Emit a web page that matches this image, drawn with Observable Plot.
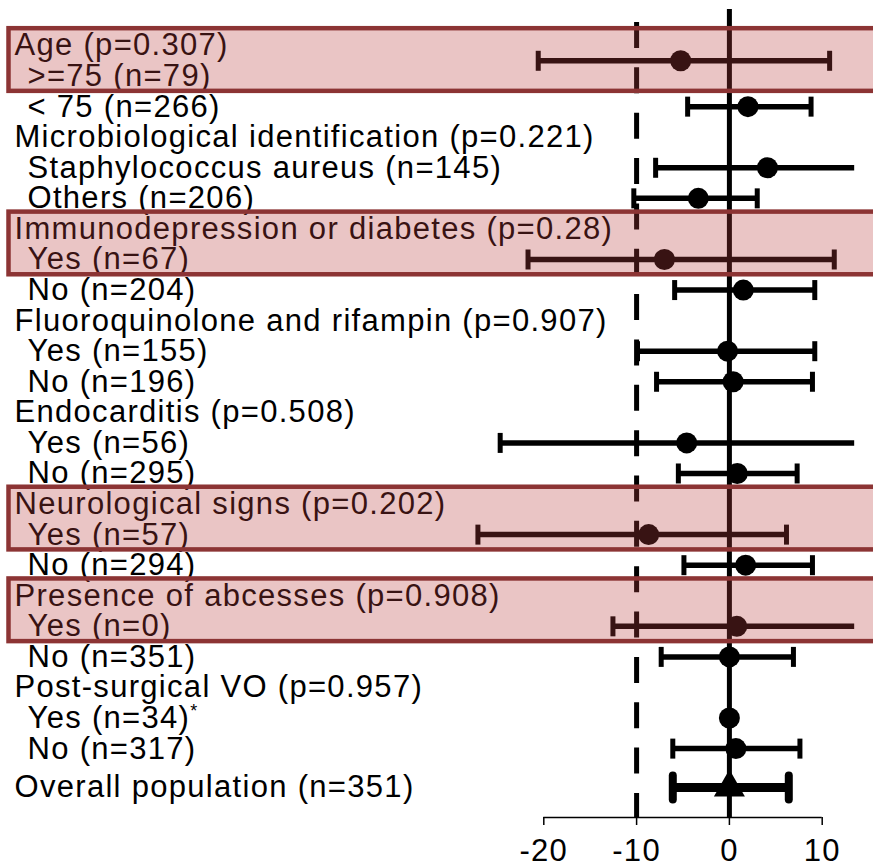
<!DOCTYPE html>
<html>
<head>
<meta charset="utf-8">
<script src="https://cdn.jsdelivr.net/npm/d3@7"></script>
<script src="https://cdn.jsdelivr.net/npm/@observablehq/plot@0.6"></script>
<style>
  html, body { margin: 0; padding: 0; background: #fff; }
  #chart { width: 873px; height: 868px; }
</style>
</head>
<body>
<div id="chart"></div>
<script>
// Row labels of the forest plot (subgroup headers and their levels)
const labels = [
  "Age (p=0.307)", ">=75 (n=79)", "< 75 (n=266)",
  "Microbiological identification (p=0.221)", "Staphylococcus aureus (n=145)", "Others (n=206)",
  "Immunodepression or diabetes (p=0.28)", "Yes (n=67)", "No (n=204)",
  "Fluoroquinolone and rifampin (p=0.907)", "Yes (n=155)", "No (n=196)",
  "Endocarditis (p=0.508)", "Yes (n=56)", "No (n=295)",
  "Neurological signs (p=0.202)", "Yes (n=57)", "No (n=294)",
  "Presence of abcesses (p=0.908)", "Yes (n=0)", "No (n=351)",
  "Post-surgical VO (p=0.957)", "Yes (n=34)*", "No (n=317)",
  "Overall population (n=351)"
];
const labelLevel = [0,1,1, 0,1,1, 0,1,1, 0,1,1, 0,1,1, 0,1,1, 0,1,1, 0,1,1, 0];
const labelRow = [0,1,2,3,4,5,6,7,8,9,10,11,12,13,14,15,16,17,18,19,20,21,22,23,24.27];

// Estimated difference with its confidence interval, one entry per subgroup level
const estRow   = [0.5, 2, 4, 5, 7, 8, 10, 11, 13, 14, 16, 17, 19, 20, 22, 23, 24.27];
const estimate = [-5.25, 2.0, 4.1, -3.35, -7.0, 1.5, -0.2, 0.4, -4.6, 0.85, -8.7, 1.75, 0.8, 0.0, 0.0, 0.7, 0.0];
const lower    = [-20.6, -4.5, -7.95, -10.3, -21.7, -5.9, -9.9, -7.85, -24.7, -5.5, -27.1, -4.9, -12.55, -7.35, null, -6.1, -6.1];
const upper    = [10.8, 8.8, 13.5, 3.0, 11.3, 9.2, 9.2, 8.95, 13.5, 7.3, 6.15, 8.95, 13.5, 6.9, null, 7.6, 6.4];
const estShape = ["circle","circle","circle","circle","circle","circle","circle","circle","circle",
                  "circle","circle","circle","circle","circle","circle","circle","triangle"];

// Header rows of the highlighted subgroups (header + first level)
const highlightRows = [0, 6, 15, 18];

const xTicks = [-20, -10, 0, 10];
const noEffect = 0;
const margin = -10;

// layout helpers
const rowTop = 45, rowStep = 30.57;
const rowOf = px => (px - rowTop) / rowStep;
const xEdge = 13.5;          // right edge of the plotting region
const fontFamily = "'Liberation Sans', Arial, Helvetica, sans-serif";

const rows = labels.map((label, i) => ({label, level: labelLevel[i], row: labelRow[i]}));
const est = estimate.map((v, i) => ({
  row: estRow[i], est: v, lo: lower[i], hi: upper[i], overall: estShape[i] === "triangle"
}));
const bars = est.filter(d => d.lo != null && !d.overall);
const overall = est.filter(d => d.overall);
const points = est.filter(d => !d.overall);

// vertical tick used as an error-bar cap
const capSymbol = {
  draw(ctx, size) {
    const h = Math.sqrt(size / Math.PI);
    ctx.moveTo(0, -h);
    ctx.lineTo(0, h);
  }
};

const capsOf = data => data.flatMap(d => {
  const c = [{row: d.row, x: d.lo}];
  if (d.hi < xEdge) c.push({row: d.row, x: d.hi});
  return c;
});

const chart = Plot.plot({
  width: 873,
  height: 868,
  marginTop: 0,
  marginLeft: 0,
  marginRight: 0,
  marginBottom: 51,
  style: {fontFamily, letterSpacing: "1.3px", background: "#fff", color: "#000"},
  x: {domain: [-20, 10], range: [543.3, 821.7], axis: null},
  y: {domain: [0, 24], range: [rowTop, rowTop + 24 * rowStep], axis: null},
  marks: [
    Plot.text(rows.filter(d => d.level === 0), {
      y: "row", text: "label", frameAnchor: "left", textAnchor: "start",
      lineAnchor: "middle", dx: 14, fontSize: 31, fill: "#000"
    }),
    Plot.text(rows.filter(d => d.level === 1), {
      y: "row", text: "label", frameAnchor: "left", textAnchor: "start",
      lineAnchor: "middle", dx: 27, fontSize: 31, fill: "#000"
    }),
    // no-effect line and non-inferiority margin
    Plot.ruleX([noEffect], {y1: rowOf(9), y2: rowOf(817), stroke: "#000", strokeWidth: 5}),
    Plot.ruleX([margin], {y1: rowOf(22), y2: rowOf(817), stroke: "#000", strokeWidth: 5,
      strokeDasharray: "26,19.35"}),
    // confidence intervals
    Plot.ruleY(bars, {y: "row", x1: "lo", x2: d => Math.min(d.hi, xEdge), stroke: "#000", strokeWidth: 5.5}),
    Plot.dot(capsOf(bars), {x: "x", y: "row", symbol: capSymbol, r: 10, fill: "none",
      stroke: "#000", strokeWidth: 5}),
    Plot.dot(points, {x: "est", y: "row", r: 10.5, fill: "#000", stroke: "none"}),
    // overall population
    Plot.ruleY(overall, {y: "row", x1: "lo", x2: "hi", stroke: "#000", strokeWidth: 9}),
    Plot.dot(capsOf(overall), {x: "x", y: "row", symbol: capSymbol, r: 12, fill: "none",
      stroke: "#000", strokeWidth: 8, strokeLinecap: "round"}),
    Plot.dot(overall, {x: "est", y: "row", symbol: "triangle", r: 11.5, fill: "#000", stroke: "none"}),
    // x axis
    Plot.ruleY([rowOf(817)], {x1: xTicks[0], x2: xTicks[xTicks.length - 1], stroke: "#000", strokeWidth: 1.5}),
    Plot.axisX({ticks: xTicks, tickSize: 8, tickPadding: 13, fontSize: 31, strokeWidth: 1.5,
      tickFormat: d => String(d), label: null}),
    // highlighted subgroups
    Plot.rect(highlightRows, {
      y1: d => d - 0.55, y2: d => d + 1.5,
      fill: "#b93e3e", fillOpacity: 0.3,
      stroke: "#8c3434", strokeWidth: 4.5,
      insetLeft: 8.5, insetRight: -10
    })
  ]
});

// superscript asterisk on the post-surgical "Yes" level
chart.querySelectorAll("text").forEach(t => {
  if (t.textContent === "Yes (n=34)*") {
    t.textContent = "Yes (n=34)";
    const s = document.createElementNS("http://www.w3.org/2000/svg", "tspan");
    s.textContent = "*";
    s.setAttribute("font-size", "18");
    s.setAttribute("dy", "-11");
    t.appendChild(s);
  }
});

document.getElementById("chart").appendChild(chart);
</script>
</body>
</html>
